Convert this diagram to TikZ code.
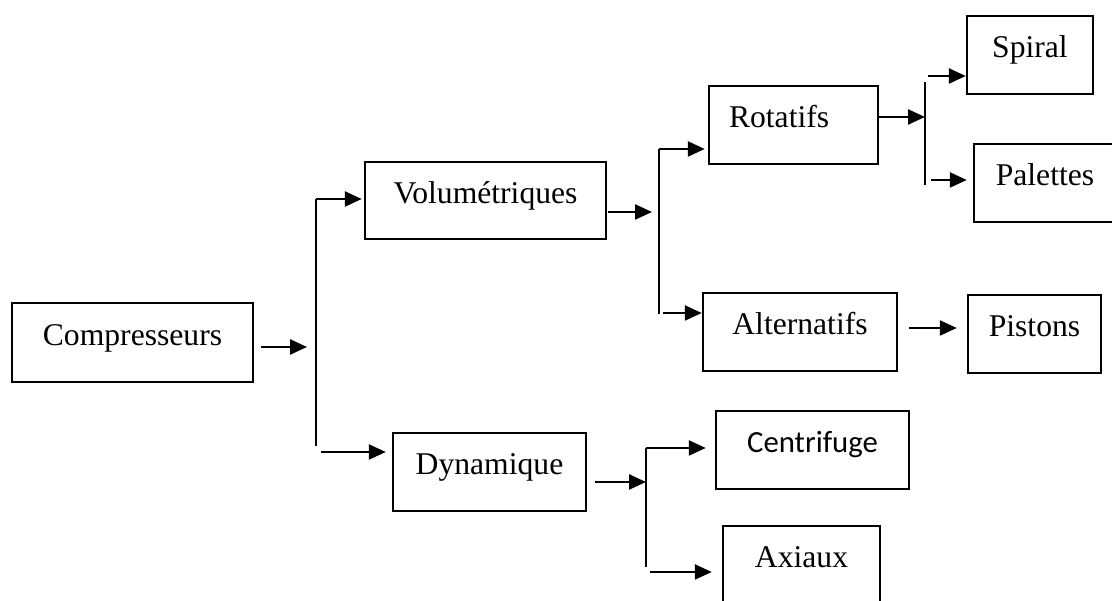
\documentclass[tikz,border=0pt]{standalone}
\usepackage{fontspec}
\setmainfont{Liberation Serif}
\newfontfamily\calibrifont{Carlito}
\usetikzlibrary{positioning,calc,arrows.meta}

\begin{document}
\begin{tikzpicture}[>={Triangle[length=0.34cm,width=0.3cm]}, line width=1.4pt,
    boite/.style={draw, rectangle, minimum height=1.56cm, inner sep=0pt,
        text height=12.2pt, text depth=8.8pt, font=\fontsize{18}{21}\selectfont}]
    \useasboundingbox (0,0) rectangle (22.24,12.02);
    \clip (0,0) rectangle (22.24,12.02);

    % boites
    \node [boite, minimum width=4.82cm, minimum height=1.58cm] (comp) at (2.65,5.17) {Compresseurs};
    \node [boite, minimum width=4.82cm, minimum height=1.54cm] (vol) at (9.71,8.01) {Volumétriques};
    \node [boite, minimum width=3.86cm] (dyn) at (9.79,2.58) {Dynamique};
    \node [boite, minimum width=3.38cm, text width=2.58cm, align=left, inner xsep=0.4cm] (rot) at (15.87,9.52) {Rotatifs};
    \node [boite, minimum width=3.88cm] (alt) at (16.00,5.38) {Alternatifs};
    \node [boite, minimum width=2.52cm] (spi) at (20.60,10.92) {Spiral};
    \node [boite, minimum width=2.84cm] (pal) at (20.90,8.36) {Palettes};
    \node [boite, minimum width=2.66cm] (pis) at (20.69,5.34) {Pistons};
    \node [boite, minimum width=3.86cm, font=\calibrifont\fontsize{17.5}{21}\selectfont] (cen) at (16.25,3.02) {Centrifuge};
    \node [boite, minimum width=3.14cm] (axi) at (16.03,0.72) {Axiaux};

    % barres
    \coordinate (b1top) at (6.32,8.04);
    \coordinate (b1bot) at (6.32,3.10);
    \coordinate (b1in) at (6.32,5.08);
    \coordinate (b1out) at (6.42,2.98);
    \coordinate (b2top) at (13.18,9.04);
    \coordinate (b2bot) at (13.18,5.74);
    \coordinate (b2in) at (13.18,7.78);
    \coordinate (b2out) at (13.26,5.76);
    \coordinate (b3top) at (18.50,10.38);
    \coordinate (b3bot) at (18.50,8.32);
    \coordinate (b3in) at (18.50,9.68);
    \coordinate (b3a) at (18.56,10.50);
    \coordinate (b3b) at (18.62,8.42);
    \coordinate (b4top) at (12.92,3.06);
    \coordinate (b4bot) at (12.92,0.68);
    \coordinate (b4in) at (12.92,2.38);
    \coordinate (b4out) at (13.00,0.58);

    \draw (b1top) -- (b1bot);
    \draw (b2top) -- (b2bot);
    \draw (b3top) -- (b3bot);
    \draw (b4top) -- (b4bot);

    % fleches
    \draw [->, shorten <=0.14cm, shorten >=0.18cm] (comp.east |- b1in) -- (b1in);
    \draw [->, shorten >=0.04cm] (b1top) -- (b1top -| vol.west);
    \draw [->, shorten >=0.12cm] (b1out) -- (b1out -| dyn.west);

    \draw [->, shorten <=0.02cm, shorten >=0.14cm] (vol.east |- b2in) -- (b2in);
    \draw [->, shorten >=0.06cm] (b2top) -- (b2top -| rot.west);
    \draw [->] (b2out) -- (b2out -| alt.west);

    \draw [->] (rot.east |- b3in) -- (b3in);
    \draw [->] (b3a) -- (b3a -| spi.west);
    \draw [->, shorten >=0.12cm] (b3b) -- (b3b -| pal.west);

    \draw [->, shorten <=0.22cm, shorten >=0.2cm] ([yshift=0.08cm]alt.east) -- ([yshift=0.08cm]alt.east -| pis.west);

    \draw [->, shorten <=0.16cm] (dyn.east |- b4in) -- (b4in);
    \draw [->, shorten >=0.18cm] (b4top) -- (b4top -| cen.west);
    \draw [->, shorten >=0.2cm] (b4out) -- (b4out -| axi.west);
\end{tikzpicture}
\end{document}
